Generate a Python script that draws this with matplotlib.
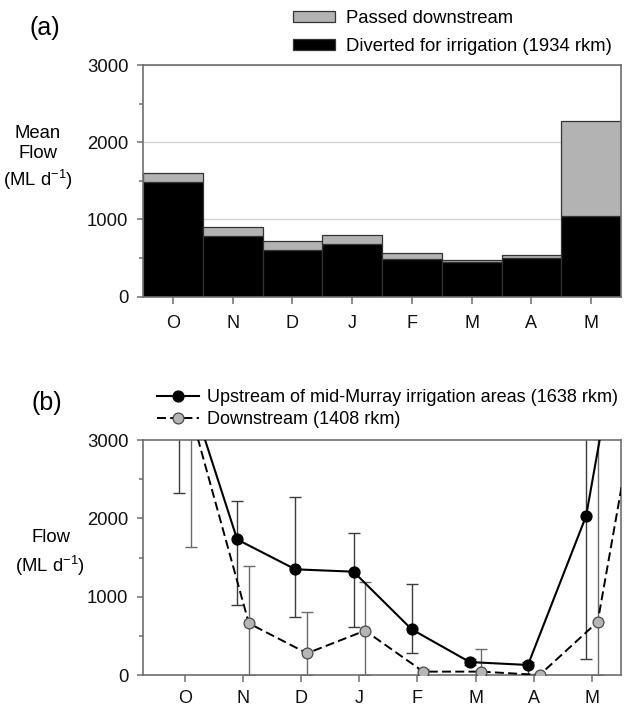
import matplotlib
matplotlib.use('Agg')
import matplotlib.pyplot as plt
from matplotlib.patches import Patch
from matplotlib.lines import Line2D
from matplotlib.ticker import MultipleLocator, FixedLocator
import numpy as np

plt.rcParams['font.family'] = ['Liberation Sans', 'DejaVu Sans']
plt.rcParams['mathtext.fontset'] = 'custom'
plt.rcParams['mathtext.rm'] = 'Liberation Sans'
plt.rcParams['mathtext.it'] = 'Liberation Sans:italic'
plt.rcParams['mathtext.bf'] = 'Liberation Sans:bold'

# ---------------- data ----------------
months = ["O", "N", "D", "J", "F", "M", "A", "M"]
diverted = [1480, 788, 606, 680, 492, 443, 495, 1045]
total_flow = [1598, 906, 725, 799, 572, 478, 536, 2272]

months_b = ["O", "N", "D", "J", "F", "M", "A", "M", "J"]
upstream = [4030, 1730, 1349, 1319, 583, 165, 128, 2030, 6200]
upstream_low = [2327, 894, 737, 617, 285, 130, 10, 205, 6200]
upstream_high = [5800, 2225, 2277, 1809, 1157, 210, 170, 4300, 6200]
downstream = [3350, 660, 277, 566, 43, 43, 0, 680, 4880]
downstream_low = [1630, 0, 0, 0, 0, 0, 0, 0, 4880]
downstream_high = [5100, 1392, 808, 1183, 80, 328, 0, 4400, 4880]

W, H = 631, 708
FS = 13.3
SPINE = '#6e6e6e'
DASH = (0, (4.6, 2.2))

def fx(px):
    return px / W

def fy(py):
    return 1 - py / H

fig = plt.figure(figsize=(W / 100, H / 100), dpi=100)

def style_axes(ax):
    for s in ax.spines.values():
        s.set_color(SPINE)
        s.set_linewidth(1.2)
    ax.tick_params(axis='both', which='both', direction='out', colors=SPINE,
                   labelcolor='#111111', labelsize=FS, width=1.1)
    ax.tick_params(axis='y', which='major', length=4.5, pad=6)
    ax.tick_params(axis='y', which='minor', length=3)
    ax.tick_params(axis='x', which='major', length=5, pad=6, labelsize=13)
    ax.set_ylim(0, 3000)
    ax.yaxis.set_major_locator(FixedLocator([0, 1000, 2000, 3000]))
    ax.yaxis.set_minor_locator(MultipleLocator(500))

# ---------------- panel (a) ----------------
axa = fig.add_axes([fx(143), fy(296.7), fx(621) - fx(143), fy(65) - fy(296.7)])
x = np.arange(len(months))
passed = np.array(total_flow) - np.array(diverted)
axa.set_axisbelow(True)
axa.yaxis.grid(True, which='major', color='#d4d4d4', linewidth=1.0)
axa.bar(x, diverted, width=1.0, color='black', edgecolor='#333333', linewidth=0.9)
axa.bar(x, passed, bottom=diverted, width=1.0, color='#b3b3b3',
        edgecolor='#333333', linewidth=0.9)
axa.set_xticks(x)
axa.set_xticklabels(months)
axa.set_xlim(-0.5, 7.5)
style_axes(axa)
axa.tick_params(axis='x', which='major', pad=8)

handles_a = [Patch(facecolor='#b3b3b3', edgecolor='#333333', linewidth=0.9),
             Patch(facecolor='black', edgecolor='#333333', linewidth=0.9)]
fig.legend(handles_a, ["Passed downstream", "Diverted for irrigation (1934 rkm)"],
           loc='upper left', bbox_to_anchor=(fx(293), fy(10)),
           bbox_transform=fig.transFigure, frameon=False, fontsize=FS,
           handlelength=2.25, handleheight=0.55, handletextpad=0.6,
           labelspacing=0.62, borderpad=0, borderaxespad=0)

fig.text(fx(45), fy(28), "(a)", fontsize=18, ha='center', va='center')
fig.text(fx(38), fy(133), "Mean", fontsize=FS, ha='center', va='center')
fig.text(fx(38), fy(154), "Flow", fontsize=FS, ha='center', va='center')
fig.text(fx(38), fy(180), r"(ML d$^{\mathrm{-1}}$)", fontsize=FS, ha='center', va='center')

# ---------------- panel (b) ----------------
axb = fig.add_axes([fx(143), fy(675), fx(621) - fx(143), fy(440) - fy(675)])
xb = np.arange(len(months_b))
off = 0.1
up = np.array(upstream)
dn = np.array(downstream)
up_err = [up - np.array(upstream_low), np.array(upstream_high) - up]
dn_err = [dn - np.array(downstream_low), np.array(downstream_high) - dn]

axb.errorbar(xb - off, up, yerr=up_err, fmt='none', ecolor='#3c3c3c',
             elinewidth=1.0, capsize=4, capthick=1.0, zorder=2)
axb.errorbar(xb + off, dn, yerr=dn_err, fmt='none', ecolor='#6a6a6a',
             elinewidth=1.0, capsize=4, capthick=1.0, zorder=2)
axb.plot(xb - off, up, '-', color='black', lw=1.5, marker='o', ms=7.8,
         mfc='black', mec='black', zorder=4)
axb.plot(xb + off, dn, color='black', lw=1.4, linestyle=DASH,
         marker='o', ms=7.8, mfc='#b5b5b5', mec='#4a4a4a', mew=0.9, zorder=3)
axb.set_xticks(xb[:8])
axb.set_xticklabels(months_b[:8])
axb.set_xlim(-0.72, 7.5)
style_axes(axb)

handles_b = [Line2D([], [], color='black', lw=1.5, marker='o', ms=7.8,
                    mfc='black', mec='black'),
             Line2D([], [], color='black', lw=1.4, linestyle=DASH,
                    marker='o', ms=7.8, mfc='#b5b5b5', mec='#4a4a4a', mew=0.9)]
fig.legend(handles_b, ["Upstream of mid-Murray irrigation areas (1638 rkm)",
                       "Downstream (1408 rkm)"],
           loc='upper left', bbox_to_anchor=(fx(157), fy(389)),
           bbox_transform=fig.transFigure, frameon=False, fontsize=13,
           handlelength=2.3, handletextpad=0.45, labelspacing=0.3,
           borderpad=0, borderaxespad=0)

fig.text(fx(47), fy(403), "(b)", fontsize=18, ha='center', va='center')
fig.text(fx(51), fy(538), "Flow", fontsize=FS, ha='center', va='center')
fig.text(fx(50), fy(566), r"(ML d$^{\mathrm{-1}}$)", fontsize=FS, ha='center', va='center')

fig.savefig('out.png', dpi=100)
